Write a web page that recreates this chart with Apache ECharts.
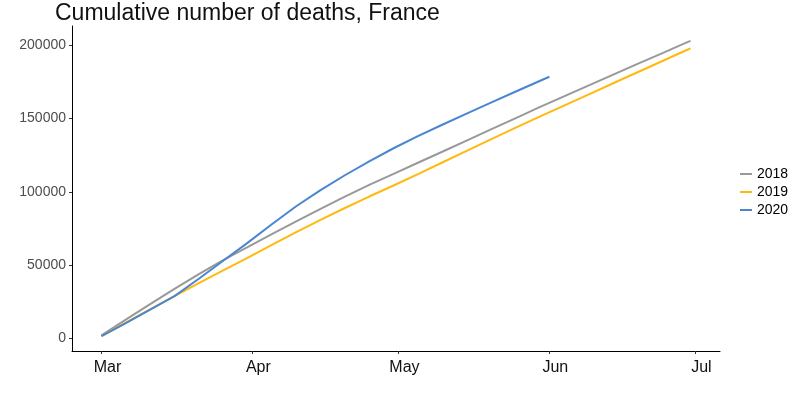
<!DOCTYPE html>
<html>
<head>
<meta charset="utf-8">
<script src="https://cdn.jsdelivr.net/npm/echarts@6/dist/echarts.min.js"></script>
<style>
html,body{margin:0;padding:0;background:#fff;}
#chart{width:800px;height:400px;}
</style>
</head>
<body>
<div id="chart"></div>
<script>
// Days are counted from March 1 (shared calendar for all years)
const dayOffsets = [0,5,10,15,20,25,30,35,40,45,50,55,60,65,70,75,80,85,90,95,100,105,110,115,120,121];
const deaths2018 = [2200,12900,23500,33900,44000,53500,62300,71200,79900,88400,96700,104700,112300,119800,127300,134900,142500,150100,157700,165100,172400,179700,187000,194200,201500,202900];
const deaths2019 = [1700,10800,19900,28900,37800,46500,55000,63800,72500,80900,89000,96800,104300,112100,120000,127900,135800,143600,151300,158800,166300,173800,181300,188800,196300,197750];
const dayOffsets2020 = [0,5,10,15,20,25,30,35,40,45,50,55,60,65,70,75,80,85,90,92];
const deaths2020 = [1650,10600,19700,28900,40800,53000,65200,77900,90200,101200,111300,120800,129700,137900,145700,153300,160800,168200,175500,178400];
const seriesNames = ['2018','2019','2020'];
const seriesColors = ['#999999','#FFB90F','#4A86D0'];
const monthStartDates = ['2020-03-01','2020-04-01','2020-05-01','2020-06-01','2020-07-01'];
const monthLabels = ['Mar','Apr','May','Jun','Jul'];
const yTicks = [0,50000,100000,150000,200000];

const DAY = 86400000;
const base = Date.UTC(2020, 2, 1);
const dayOf = s => Math.round((Date.parse(s + 'T00:00:00Z') - base) / DAY);
const monthDays = monthStartDates.map(dayOf);
const pairs = (days, vals) => days.map((d, i) => [d, vals[i]]);

const chart = echarts.init(document.getElementById('chart'), null, {renderer: 'canvas'});
const datasets = [pairs(dayOffsets, deaths2018), pairs(dayOffsets, deaths2019), pairs(dayOffsets2020, deaths2020)];

chart.setOption({
  animation: false,
  backgroundColor: '#ffffff',
  title: {
    text: 'Cumulative number of deaths, France',
    left: 50, top: -3,
    textStyle: {fontFamily: 'Liberation Sans', fontSize: 23, fontWeight: 'normal', color: '#111'}
  },
  legend: {
    orient: 'vertical',
    left: 735, top: 162,
    icon: 'rect',
    itemWidth: 12, itemHeight: 2, itemGap: 4,
    textStyle: {fontFamily: 'Liberation Sans', fontSize: 14, color: '#000', lineHeight: 14},
    data: seriesNames
  },
  grid: {left: 72, right: 80, top: 26, bottom: 49, containLabel: false},
  xAxis: {
    type: 'value',
    min: -6.05,
    max: 127.05,
    axisLine: {show: true, onZero: false, lineStyle: {color: '#000', width: 1}},
    axisTick: {show: true, length: 3, lineStyle: {color: '#333'}, customValues: monthDays},
    axisLabel: {
      customValues: monthDays,
      formatter: v => { const i = monthDays.indexOf(v); return i >= 0 ? monthLabels[i] : ''; },
      fontFamily: 'Liberation Sans', fontSize: 16, color: '#111', margin: 9,
      padding: [0, 0, 0, 12]
    },
    splitLine: {show: false}
  },
  yAxis: {
    type: 'value',
    min: -8450, max: 213000,
    axisLine: {show: true, onZero: false, lineStyle: {color: '#000', width: 1}},
    axisTick: {show: true, length: 3, lineStyle: {color: '#333'}, customValues: yTicks},
    axisLabel: {customValues: yTicks, formatter: v => String(v), fontFamily: 'Liberation Sans', fontSize: 14, color: '#4d4d4d', margin: 6},
    splitLine: {show: false}
  },
  series: seriesNames.map((name, i) => ({
    name: name,
    type: 'line',
    data: datasets[i],
    symbol: 'none',
    lineStyle: {width: 2, color: seriesColors[i]},
    itemStyle: {color: seriesColors[i]}
  }))
});
</script>
</body>
</html>
